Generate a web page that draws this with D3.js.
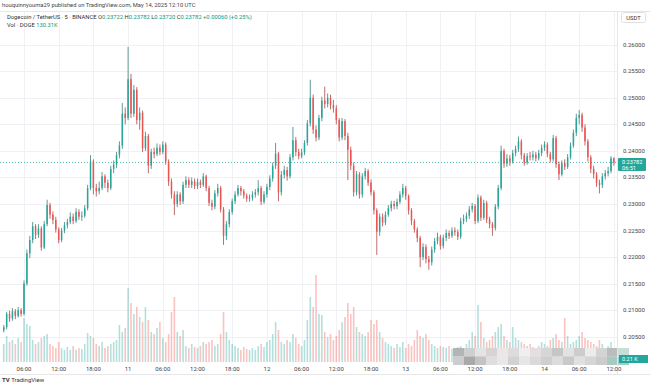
<!DOCTYPE html>
<html>
<head>
<meta charset="utf-8">
<script src="https://cdn.jsdelivr.net/npm/d3@7"></script>
<style>
  body { margin: 0; background: #fff; }
  text { font-family: Roboto, "Liberation Sans", sans-serif; }
</style>
</head>
<body>
<svg id="chart" width="650" height="384"></svg>
<script>
// DOGE/USDT, candles grouped per 30 min
const firstOpen = 0.2062;
const startTime = Date.UTC(2025, 4, 10, 2, 30);
const stepMinutes = 30;

const closes = [
  0.2068,0.2093,0.2084,0.2098,0.2089,0.2100,0.2093,0.2150,0.2207,0.2232,
  0.2258,0.2242,0.2254,0.2218,0.2262,0.2298,0.2280,0.2270,0.2252,0.2232,
  0.2250,0.2260,0.2266,0.2276,0.2268,0.2285,0.2276,0.2278,0.2292,0.2330,
  0.2380,0.2330,0.2324,0.2330,0.2352,0.2340,0.2330,0.2366,0.2374,0.2392,
  0.2410,0.2470,0.2462,0.2535,0.2470,0.2515,0.2458,0.2472,0.2405,0.2428,
  0.2372,0.2398,0.2394,0.2406,0.2398,0.2412,0.2380,0.2342,0.2318,0.2300,
  0.2318,0.2305,0.2336,0.2345,0.2336,0.2343,0.2334,0.2341,0.2336,0.2352,
  0.2330,0.2302,0.2295,0.2320,0.2330,0.2290,0.2240,0.2262,0.2285,0.2305,
  0.2318,0.2330,0.2324,0.2316,0.2310,0.2312,0.2318,0.2322,0.2330,0.2304,
  0.2318,0.2332,0.2348,0.2372,0.2395,0.2322,0.2355,0.2364,0.2352,0.2388,
  0.2420,0.2398,0.2390,0.2397,0.2415,0.2452,0.2500,0.2440,0.2425,0.2462,
  0.2495,0.2488,0.2500,0.2486,0.2480,0.2458,0.2425,0.2456,0.2428,0.2402,
  0.2372,0.2322,0.2356,0.2318,0.2352,0.2362,0.2340,0.2322,0.2288,0.2248,
  0.2276,0.2265,0.2280,0.2292,0.2300,0.2296,0.2304,0.2318,0.2330,0.2315,
  0.2288,0.2268,0.2252,0.2236,0.2200,0.2219,0.2196,0.2190,0.2214,0.2230,
  0.2238,0.2221,0.2236,0.2245,0.2240,0.2250,0.2247,0.2238,0.2268,0.2272,
  0.2278,0.2290,0.2296,0.2268,0.2312,0.2274,0.2302,0.2271,0.2262,0.2255,
  0.2295,0.2330,0.2400,0.2376,0.2386,0.2380,0.2396,0.2404,0.2418,0.2392,
  0.2378,0.2390,0.2388,0.2393,0.2386,0.2396,0.2406,0.2412,0.2394,0.2384,
  0.2424,0.2375,0.2356,0.2377,0.2370,0.2388,0.2410,0.2434,0.2462,0.2468,
  0.2444,0.2418,0.2388,0.2366,0.2356,0.2340,0.2336,0.2352,0.2358,0.2362,
  0.2386,0.23782
];

const highs = [
  0.2072,0.2097,0.2099,0.2104,0.2102,0.2106,0.2104,0.2156,0.2214,0.2240,
  0.2266,0.2262,0.2262,0.2258,0.2268,0.2308,0.2302,0.2286,0.2276,0.2256,
  0.2255,0.2266,0.2272,0.2284,0.2282,0.2292,0.2290,0.2286,0.2298,0.2336,
  0.2392,0.2384,0.2338,0.2342,0.2360,0.2356,0.2346,0.2372,0.2382,0.2398,
  0.2418,0.2490,0.2482,0.2596,0.2545,0.2524,0.2520,0.2482,0.2476,0.2436,
  0.2432,0.2404,0.2406,0.2414,0.2412,0.2418,0.2416,0.2384,0.2348,0.2324,
  0.2324,0.2322,0.2342,0.2352,0.2350,0.2350,0.2348,0.2348,0.2346,0.2358,
  0.2355,0.2334,0.2308,0.2326,0.2338,0.2334,0.2294,0.2268,0.2290,0.2310,
  0.2324,0.2336,0.2334,0.2328,0.2320,0.2318,0.2324,0.2328,0.2345,0.2334,
  0.2324,0.2338,0.2354,0.2378,0.2415,0.2398,0.2362,0.2372,0.2370,0.2394,
  0.2445,0.2426,0.2404,0.2404,0.2420,0.2458,0.2534,0.2506,0.2448,0.2468,
  0.2502,0.2521,0.2508,0.2506,0.2496,0.2486,0.2462,0.2462,0.2460,0.2434,
  0.2408,0.2378,0.2362,0.2360,0.2358,0.2368,0.2366,0.2346,0.2326,0.2292,
  0.2282,0.2282,0.2286,0.2298,0.2306,0.2306,0.2310,0.2324,0.2338,0.2334,
  0.2318,0.2292,0.2272,0.2256,0.2240,0.2226,0.2224,0.2202,0.2220,0.2236,
  0.2246,0.2242,0.2242,0.2252,0.2250,0.2256,0.2256,0.2252,0.2274,0.2280,
  0.2284,0.2296,0.2302,0.2300,0.2318,0.2316,0.2308,0.2306,0.2276,0.2266,
  0.2300,0.2336,0.2410,0.2404,0.2394,0.2392,0.2402,0.2410,0.2427,0.2422,
  0.2396,0.2396,0.2398,0.2400,0.2398,0.2402,0.2412,0.2418,0.2416,0.2398,
  0.2430,0.2428,0.2380,0.2382,0.2384,0.2394,0.2416,0.2440,0.2470,0.2477,
  0.2472,0.2450,0.2422,0.2392,0.2372,0.2360,0.2346,0.2358,0.2364,0.2370,
  0.2390,0.2388
];

const lows = [
  0.2058,0.2064,0.2078,0.2080,0.2083,0.2086,0.2088,0.2090,0.2146,0.2198,
  0.2226,0.2234,0.2236,0.2212,0.2215,0.2258,0.2272,0.2262,0.2246,0.2226,
  0.2228,0.2245,0.2254,0.2262,0.2262,0.2264,0.2270,0.2268,0.2274,0.2288,
  0.2326,0.2318,0.2314,0.2318,0.2326,0.2330,0.2322,0.2326,0.2358,0.2368,
  0.2386,0.2404,0.2450,0.2458,0.2462,0.2464,0.2450,0.2440,0.2398,0.2400,
  0.2358,0.2366,0.2386,0.2390,0.2392,0.2394,0.2374,0.2334,0.2310,0.2279,
  0.2294,0.2298,0.2300,0.2330,0.2330,0.2330,0.2328,0.2328,0.2330,0.2332,
  0.2324,0.2296,0.2288,0.2290,0.2314,0.2284,0.2223,0.2232,0.2256,0.2280,
  0.2300,0.2314,0.2316,0.2310,0.2304,0.2304,0.2306,0.2312,0.2316,0.2298,
  0.2300,0.2312,0.2326,0.2342,0.2366,0.2305,0.2316,0.2348,0.2344,0.2348,
  0.2382,0.2390,0.2384,0.2386,0.2392,0.2410,0.2446,0.2432,0.2418,0.2420,
  0.2456,0.2480,0.2482,0.2478,0.2472,0.2450,0.2418,0.2420,0.2420,0.2345,
  0.2364,0.2314,0.2316,0.2310,0.2312,0.2346,0.2334,0.2316,0.2280,0.2204,
  0.2240,0.2258,0.2260,0.2276,0.2286,0.2290,0.2290,0.2300,0.2312,0.2308,
  0.2280,0.2260,0.2246,0.2228,0.2181,0.2194,0.2188,0.2176,0.2184,0.2208,
  0.2224,0.2214,0.2216,0.2230,0.2234,0.2236,0.2240,0.2232,0.2234,0.2262,
  0.2266,0.2272,0.2284,0.2262,0.2264,0.2268,0.2270,0.2264,0.2254,0.2240,
  0.2250,0.2290,0.2326,0.2368,0.2370,0.2372,0.2376,0.2390,0.2398,0.2384,
  0.2372,0.2374,0.2382,0.2382,0.2380,0.2382,0.2390,0.2400,0.2388,0.2378,
  0.2380,0.2368,0.2345,0.2352,0.2364,0.2366,0.2384,0.2406,0.2428,0.2450,
  0.2436,0.2410,0.2380,0.2358,0.2348,0.2332,0.2320,0.2330,0.2346,0.2352,
  0.2358,0.2372
];

// volume in millions of DOGE
const volumes = [
  9,13,10,11,9,12,10,22,19,18,
  11,9,10,12,13,14,9,8,7,10,
  7,6,7.5,6,8,6,7,6.5,9,14.5,
  13,12,9,8,10,7,8,9,10,11,
  18.5,15,17,37,29.5,24,27.5,22.5,20,27.5,
  21,15,14,17,20,12,10,14,25,32.5,
  15,13,16,8,7,9,7.5,7,8,10,
  9,10,11,8,9,14,25,15,11,9,
  8,7,6,7.5,6.5,6,7,6,8,9,
  7.5,10,11,14,20,16,10,9,11,10,
  14,12,9,8,11,21,32.5,27.5,43.5,24,
  23.5,15,12.5,14,11,13,16,20,22.5,29.5,
  24,27.5,17.5,15,14,13,15,21,19,21,
  15,12,10,9,8,7,9,7.5,10,7,
  9,8,11,16,13,12,14,11,9,8,
  7,8,7.5,7,8,6.5,6,7.5,8,7,
  9,11,15,13,28.5,20,12,10,11,13,
  15,17.5,19,13,11,10,17.5,12,11,10,
  9,8,9,7.5,7,8,10,9,8,11,
  12,14,11,10,22,13,9,10,11,13,
  15,12,11,10,9,8,11,9,7,8,
  10,7
];

const priceTicks = [0.205,0.21,0.215,0.22,0.225,0.23,0.235,0.24,0.245,0.25,0.255,0.26];
const lastPrice = 0.23782;

// grey blocks of the blurred strip over the right end of the volume pane
const mosaicTop = ['#b4b4b4','#cfcfcf','#e4e4e4','#d9d2d2','#ece6e6','#dcdcdc','#efefef','#e6dede',
                   '#d6d6d6','#c6c6c6','#e2e2e2','#cdcdcd','#ececec','#d4d4d4','#bcbcbc','#c8dcd8'];
const mosaicBottom = ['#cdcdcd','#a9a9a9','#c4c4c4','#dedede','#e8e8e8','#d2d2d2','#e6e6e6','#dadada',
                      '#cfcfcf','#dcdcdc','#c9c9c9','#e0e0e0','#d6d6d6','#cccccc','#a8c8c2','#9fd0c8'];

const upColour = '#26a69a';
const downColour = '#ef5350';

const svg = d3.select('#chart');
const width = +svg.attr('width');
const plotRight = 617;
const plotTop = 11;
const plotBottom = 362;

// build candle table
const candles = closes.map((c, i) => ({
  time: new Date(startTime + i * stepMinutes * 60000),
  open: i === 0 ? firstOpen : closes[i - 1],
  close: c,
  high: highs[i],
  low: lows[i],
  volume: volumes[i]
}));

const x = d3.scaleUtc()
  .domain([new Date(Date.UTC(2025, 4, 10, 6)), new Date(Date.UTC(2025, 4, 14, 12))])
  .range([24, 613.9]);

const y = d3.scaleLinear()
  .domain([0.205, 0.26])
  .range([336.7, 44.7]);

const yVol = d3.scaleLinear()
  .domain([0, 45])
  .range([plotBottom, 272]);

// grid
const timeTicks = d3.utcHour.every(6).range(x.domain()[0], new Date(+x.domain()[1] + 1));
const grid = svg.append('g').attr('class', 'grid');
grid.selectAll('.vgrid').data(timeTicks).join('line')
  .attr('x1', d => Math.round(x(d)) + 0.5).attr('x2', d => Math.round(x(d)) + 0.5)
  .attr('y1', plotTop).attr('y2', plotBottom)
  .attr('stroke', '#f0f1f4');
grid.selectAll('.hgrid').data(priceTicks).join('line')
  .attr('x1', 0).attr('x2', plotRight)
  .attr('y1', d => Math.round(y(d)) + 0.5).attr('y2', d => Math.round(y(d)) + 0.5)
  .attr('stroke', '#f0f1f4');

// volume bars
svg.append('g').selectAll('rect').data(candles).join('rect')
  .attr('x', d => x(d.time) - 0.8)
  .attr('width', 1.6)
  .attr('y', d => yVol(d.volume))
  .attr('height', d => plotBottom - yVol(d.volume))
  .attr('fill', d => d.close >= d.open ? upColour : downColour)
  .attr('opacity', 0.35);

// blurred strip
const mosaic = svg.append('g');
[mosaicTop, mosaicBottom].forEach((row, r) => {
  mosaic.selectAll(`.m${r}`).data(row).join('rect')
    .attr('x', (d, i) => 453 + i * 11)
    .attr('y', 348 + r * 8.5)
    .attr('width', 11)
    .attr('height', 8.5)
    .attr('fill', d => d);
});

// last price line
svg.append('line')
  .attr('x1', 0).attr('x2', plotRight)
  .attr('y1', y(lastPrice)).attr('y2', y(lastPrice))
  .attr('stroke', upColour)
  .attr('stroke-dasharray', '1,2')
  .attr('opacity', 0.8);

// candles
const candleG = svg.append('g').selectAll('g').data(candles).join('g');
candleG.append('line')
  .attr('x1', d => x(d.time)).attr('x2', d => x(d.time))
  .attr('y1', d => y(d.high)).attr('y2', d => y(d.low))
  .attr('stroke', d => d.close >= d.open ? '#3f7f78' : '#a8474a')
  .attr('stroke-width', 0.8);
candleG.append('rect')
  .attr('x', d => x(d.time) - 0.75)
  .attr('width', 1.5)
  .attr('y', d => y(Math.max(d.open, d.close)))
  .attr('height', d => Math.max(0.7, Math.abs(y(d.open) - y(d.close))))
  .attr('fill', d => d.close >= d.open ? upColour : downColour);

// frame lines
svg.append('line').attr('x1', 0).attr('x2', width).attr('y1', 11.5).attr('y2', 11.5).attr('stroke', '#e6e6e6');
svg.append('line').attr('x1', plotRight + 0.5).attr('x2', plotRight + 0.5).attr('y1', plotTop).attr('y2', 374).attr('stroke', '#e6e6e6');
svg.append('line').attr('x1', 0).attr('x2', width).attr('y1', 374.5).attr('y2', 374.5).attr('stroke', '#e6e6e6');

// price axis labels
svg.append('g').selectAll('text').data(priceTicks).join('text')
  .attr('x', 623)
  .attr('y', d => y(d) + 2)
  .attr('font-size', 6)
  .attr('fill', '#444')
  .text(d3.format('.5f'));

// last price tag
const tag = svg.append('g');
tag.append('rect').attr('x', 618).attr('y', y(lastPrice) - 4.5).attr('width', 28).attr('height', 13)
  .attr('rx', 1).attr('fill', upColour);
tag.append('text').attr('x', 622).attr('y', y(lastPrice) + 1.5).attr('font-size', 5.6).attr('fill', '#fff').text('0.23782');
tag.append('text').attr('x', 622).attr('y', y(lastPrice) + 7.3).attr('font-size', 5.6).attr('fill', '#fff').text('06:51');

// volume tag
svg.append('rect').attr('x', 619).attr('y', 355).attr('width', 29).attr('height', 8).attr('fill', upColour);
svg.append('text').attr('x', 622).attr('y', 361.3).attr('font-size', 5.6).attr('fill', '#fff').text('0.21 K');

// currency box
svg.append('rect').attr('x', 621.5).attr('y', 12.5).attr('width', 24).attr('height', 10).attr('rx', 2)
  .attr('fill', '#fff').attr('stroke', '#e0e0e0');
svg.append('text').attr('x', 633.5).attr('y', 19.5).attr('text-anchor', 'middle')
  .attr('font-size', 5.8).attr('fill', '#333').text('USDT');

// time axis
const timeFormat = d => d.getUTCHours() === 0 ? d3.utcFormat('%-d')(d) : d3.utcFormat('%H:%M')(d);
svg.append('g').selectAll('text').data(timeTicks).join('text')
  .attr('x', d => x(d))
  .attr('y', 370.5)
  .attr('text-anchor', 'middle')
  .attr('font-size', 6)
  .attr('fill', '#444')
  .text(timeFormat);

// header
svg.append('text').attr('x', 2).attr('y', 7.3).attr('font-size', 5.8).attr('fill', '#444')
  .text('houquinnyouma29 published on TradingView.com, May 14, 2025 12:10 UTC');

const legend = svg.append('text').attr('x', 7).attr('y', 19.3).attr('font-size', 5.8).attr('fill', '#333');
legend.append('tspan').text('Dogecoin / TetherUS · 5 · BINANCE  ');
[['O', '0.23722'], ['H', '0.23782'], ['L', '0.23720'], ['C', '0.23782']].forEach(([k, v]) => {
  legend.append('tspan').text(k);
  legend.append('tspan').attr('fill', '#089981').text(v + ' ');
});
legend.append('tspan').attr('fill', '#089981').text('+0.00060 (+0.25%)');

const volLegend = svg.append('text').attr('x', 7).attr('y', 26.8).attr('font-size', 5.8).attr('fill', '#333');
volLegend.append('tspan').text('Vol · DOGE  ');
volLegend.append('tspan').attr('fill', '#089981').text('130.31K');

// logo
const logo = svg.append('text').attr('x', 2).attr('y', 382).attr('font-size', 6).attr('fill', '#333');
logo.append('tspan').attr('font-weight', 'bold').text('TV ');
logo.append('tspan').text('TradingView');
</script>
</body>
</html>
